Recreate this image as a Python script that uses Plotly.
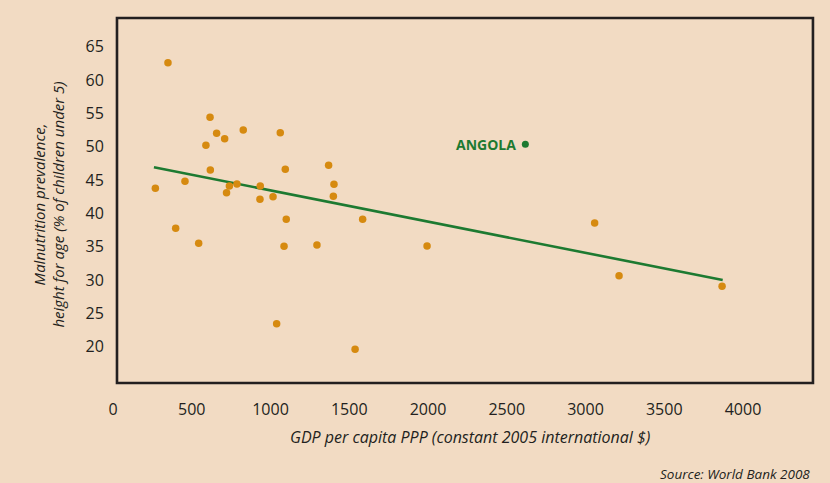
import plotly.graph_objects as go

# Data
gdp = [349, 616, 658, 709, 590, 827, 1062, 618, 1094, 269, 457, 739, 787, 721,
       935, 933, 1016, 1100, 398, 544, 1086, 1039, 1369, 1403, 1399, 1585, 1295,
       1537, 1994, 3058, 3213, 3867]
malnutrition = [62.6, 54.4, 52.0, 51.2, 50.2, 52.5, 52.1, 46.5, 46.6, 43.75, 44.8,
                44.1, 44.4, 43.1, 44.1, 42.1, 42.5, 39.1, 37.75, 35.5, 35.05, 23.45,
                47.2, 44.35, 42.55, 39.1, 35.25, 19.6, 35.1, 38.55, 30.65, 29.05]
angola_gdp = [2618]
angola_mal = [50.35]
trend_x = [260, 3871]
trend_y = [46.9, 30.0]
x_ticks = [0, 500, 1000, 1500, 2000, 2500, 3000, 3500, 4000]
y_ticks = [20, 25, 30, 35, 40, 45, 50, 55, 60, 65]

BG = "#f2dbc3"
ORANGE = "#d68a10"
GREEN = "#1d7a31"
DARK = "#231f20"
FONT = "Open Sans"

fig = go.Figure()
fig.add_trace(go.Scatter(x=trend_x, y=trend_y, mode="lines",
                         line=dict(color=GREEN, width=2.6), hoverinfo="skip"))
fig.add_trace(go.Scatter(x=gdp, y=malnutrition, mode="markers",
                         marker=dict(color=ORANGE, size=7.5, line=dict(width=0))))
fig.add_trace(go.Scatter(x=angola_gdp, y=angola_mal, mode="markers",
                         marker=dict(color=GREEN, size=7, line=dict(width=0))))

# frame
fig.add_shape(type="rect", xref="x", yref="y", x0=25.4, x1=4444, y0=14.55, y1=69.3,
              line=dict(color=DARK, width=2.6), layer="above")

fig.add_annotation(x=angola_gdp[0], y=angola_mal[0], text="<b>ANGOLA</b>",
                   showarrow=False, xanchor="right", yanchor="middle", xshift=-7,
                   font=dict(family=FONT, size=14, color=GREEN))

fig.add_annotation(xref="paper", yref="paper", x=-0.087, y=0.488,
                   text="Malnutrition prevalence,<br>height for age (% of children under 5)",
                   textangle=-90, showarrow=False, xanchor="center", yanchor="middle",
                   font=dict(family=FONT, size=15, color=DARK, style="italic"))
fig.add_annotation(xref="paper", yref="paper", x=0.511, y=-0.1375,
                   text="GDP per capita PPP (constant 2005 international $)",
                   showarrow=False, xanchor="center", yanchor="middle",
                   font=dict(family=FONT, size=16, color=DARK, style="italic"))
fig.add_annotation(xref="paper", yref="paper", x=0.9957, y=-0.237,
                   text="Source: World Bank 2008",
                   showarrow=False, xanchor="right", yanchor="middle",
                   font=dict(family=FONT, size=13.5, color=DARK, style="italic"))

fig.update_layout(
    width=830, height=483,
    margin=dict(l=110, r=15, t=15, b=97),
    paper_bgcolor=BG, plot_bgcolor=BG,
    showlegend=False,
    font=dict(family=FONT, color=DARK),
    xaxis=dict(range=[-19, 4457], tickvals=x_ticks, showgrid=False, zeroline=False,
               showline=False, ticks="outside", ticklen=9, tickcolor="rgba(0,0,0,0)",
               tickfont=dict(family=FONT, size=16, color=DARK)),
    yaxis=dict(range=[14.1, 69.75], tickvals=y_ticks, showgrid=False, zeroline=False,
               showline=False, ticks="outside", ticklen=2, tickcolor="rgba(0,0,0,0)",
               tickfont=dict(family=FONT, size=16, color=DARK)),
)

fig.write_html("out.html", config={"displayModeBar": False},
               post_script="document.body.style.margin='0';document.body.style.background='%s';" % BG)
